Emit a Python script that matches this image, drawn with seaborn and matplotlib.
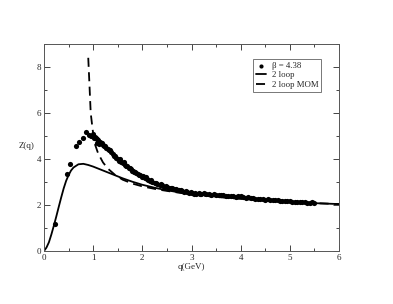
import matplotlib
matplotlib.use("Agg")
import matplotlib.pyplot as plt
import seaborn as sns
import pandas as pd
from matplotlib.ticker import MultipleLocator

# data points (beta = 4.38)
q_pts = [0.22, 0.46, 0.52, 0.66, 0.71, 0.80, 0.86, 0.92, 0.95, 0.98, 1.00, 1.03, 1.05, 1.08,
         1.10, 1.13, 1.16, 1.20, 1.23, 1.27, 1.30, 1.33, 1.37, 1.40, 1.43, 1.47, 1.50, 1.53,
         1.57, 1.60, 1.64, 1.68, 1.72, 1.76, 1.80, 1.84, 1.88, 1.92, 1.96, 2.00, 2.05, 2.10,
         2.15, 2.20, 2.25, 2.30, 2.35, 2.40, 2.45, 2.50, 2.55, 2.60, 2.65, 2.70, 2.75, 2.80,
         2.85, 2.90, 2.95, 3.00, 3.05, 3.10, 3.15, 3.20, 3.30, 3.40, 3.50, 3.60, 3.70, 3.80,
         3.90, 4.00, 4.10, 4.20, 4.30, 4.40, 4.50, 4.60, 4.70, 4.80, 4.90, 5.00, 5.10, 5.20,
         5.30, 5.40, 5.50,
         1.02, 1.07, 1.12, 1.18, 1.25, 1.35, 1.45, 1.55, 1.62, 1.66, 1.74, 1.78, 1.86, 1.94,
         2.02, 2.08, 2.12, 2.18, 2.28, 2.38, 2.48, 2.58, 2.68, 2.78, 2.88, 2.98, 3.08, 3.18,
         3.25, 3.35, 3.45, 3.55, 3.65, 3.75, 3.85, 3.95, 4.05, 4.15, 4.25, 4.35, 4.45, 4.55,
         4.65, 4.75, 4.85, 4.95, 5.05, 5.15, 5.25, 5.35, 5.45]
z_pts = [1.19, 3.33, 3.80, 4.55, 4.74, 4.93, 5.19, 5.03, 5.02, 4.98, 5.08, 4.97, 4.90, 4.70,
         4.82, 4.75, 4.68, 4.62, 4.55, 4.50, 4.42, 4.38, 4.30, 4.20, 4.15, 4.05, 4.00, 3.93,
         3.88, 3.82, 3.75, 3.68, 3.62, 3.55, 3.48, 3.45, 3.38, 3.35, 3.30, 3.22, 3.18, 3.12,
         3.05, 3.02, 2.95, 2.92, 2.88, 2.85, 2.80, 2.78, 2.75, 2.72, 2.70, 2.66, 2.65, 2.62,
         2.58, 2.56, 2.53, 2.52, 2.50, 2.48, 2.52, 2.47, 2.50, 2.45, 2.44, 2.42, 2.40, 2.38,
         2.36, 2.37, 2.32, 2.30, 2.28, 2.25, 2.23, 2.22, 2.20, 2.18, 2.17, 2.16, 2.14, 2.13,
         2.12, 2.10, 2.07,
         4.92, 4.85, 4.66, 4.70, 4.58, 4.40, 4.12, 3.98, 3.86, 3.70, 3.63, 3.50, 3.42, 3.32,
         3.28, 3.20, 3.10, 3.08, 2.96, 2.90, 2.84, 2.74, 2.69, 2.66, 2.60, 2.55, 2.53, 2.50,
         2.52, 2.47, 2.46, 2.45, 2.43, 2.41, 2.39, 2.40, 2.35, 2.33, 2.30, 2.27, 2.26, 2.24,
         2.21, 2.20, 2.16, 2.18, 2.15, 2.12, 2.14, 2.09, 2.11]

# 2 loop curve
q_2loop = [0, 0.05, 0.1, 0.15, 0.2, 0.25, 0.3, 0.35, 0.4, 0.45, 0.5, 0.55, 0.6, 0.7, 0.8,
           0.9, 1.0, 1.2, 1.4, 1.6, 1.8, 2.0, 2.25, 2.5, 2.75, 3.0, 3.5, 4.0, 4.5, 5.0, 5.5, 6.0]
z_2loop = [0, 0.15, 0.38, 0.72, 1.1, 1.5, 1.92, 2.33, 2.72, 3.05, 3.3, 3.5, 3.63, 3.77, 3.79,
           3.74, 3.67, 3.5, 3.33, 3.16, 3.01, 2.88, 2.75, 2.64, 2.55, 2.48, 2.37, 2.28, 2.2,
           2.13, 2.08, 2.04]

# 2 loop MOM curve
q_mom = [0.9, 0.92, 0.95, 0.99, 1.03, 1.1, 1.2, 1.3, 1.45, 1.6, 1.8, 2.0, 2.3, 2.6, 3.0,
         3.5, 4.0, 4.5, 5.0, 5.5, 6.0]
z_mom = [8.4, 7.45, 6.0, 5.27, 4.68, 4.25, 3.85, 3.58, 3.3, 3.1, 2.93, 2.81, 2.68, 2.58,
         2.46, 2.35, 2.27, 2.19, 2.12, 2.08, 2.04]

sns.set_style("ticks")
plt.rcParams['font.family'] = ['Liberation Serif', 'DejaVu Serif']

fig = plt.figure(figsize=(3.93, 3.04), dpi=100)
ax = fig.add_axes([44/393, 1 - 251/304, (339-44)/393, (251-44)/304])

df_pts = pd.DataFrame({"q": q_pts, "Z": z_pts})
df_2l = pd.DataFrame({"q": q_2loop, "Z": z_2loop})
df_mom = pd.DataFrame({"q": q_mom, "Z": z_mom})

sns.scatterplot(data=df_pts, x="q", y="Z", ax=ax, color="black", s=14, linewidth=0,
                label="\u03b2 = 4.38", zorder=3)
sns.lineplot(data=df_2l, x="q", y="Z", ax=ax, color="black", linewidth=1.3,
             label="2 loop", sort=False)
sns.lineplot(data=df_mom, x="q", y="Z", ax=ax, color="black", linewidth=1.3,
             label="2 loop MOM", sort=False)
ax.lines[-1].set_dashes([5, 3])

ax.set_xlim(0, 6)
ax.set_ylim(0, 9)
ax.xaxis.set_major_locator(MultipleLocator(1))
ax.xaxis.set_minor_locator(MultipleLocator(0.5))
ax.yaxis.set_major_locator(MultipleLocator(2))
ax.yaxis.set_minor_locator(MultipleLocator(1))
ax.tick_params(which="both", direction="in", top=True, right=True, labelsize=6.5,
               width=0.6, pad=2)
ax.tick_params(which="major", length=4)
ax.tick_params(which="minor", length=2.5)
for sp in ax.spines.values():
    sp.set_linewidth(0.7)
    sp.set_color("#555555")

ax.set_xlabel("q(GeV)", fontsize=6.5, labelpad=1)
ax.set_ylabel("Z(q)", fontsize=6.5, rotation=0, labelpad=6)
ax.yaxis.set_label_coords(-0.06, 0.49)

leg = ax.legend(loc="upper right", bbox_to_anchor=(0.955, 0.95), fontsize=6.3,
                frameon=True, fancybox=False, handlelength=1.1, handletextpad=0.7,
                borderpad=0.35, labelspacing=0.15, markerscale=0.8)
leg.get_frame().set_edgecolor("#555555")
leg.get_frame().set_linewidth(0.7)

fig.savefig("out.png", dpi=100)
